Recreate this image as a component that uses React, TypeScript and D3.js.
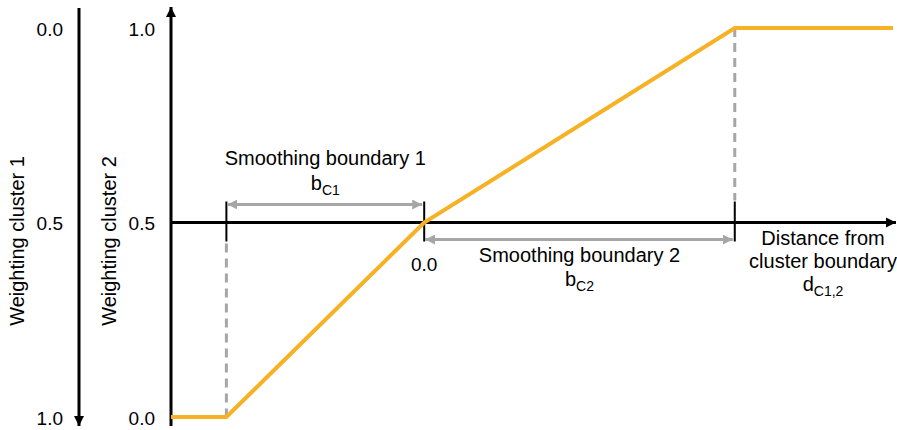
import * as d3 from "d3";

// distance from cluster boundary (in units of b_C1) and the weight of cluster 2
const distance = [-1.28, -1.0, 0.0, 1.57, 2.37];
const weight2 = [0, 0, 0.5, 1, 1];

// axis ticks
const weightTicks = [0, 0.5, 1];
const weightTickLabels = ["0.0", "0.5", "1.0"];
const boundaryTicks = [-1.0, 0.0, 1.57];

const W = 897;
const H = 430;
const FONT = "'Liberation Sans', Arial, sans-serif";
const ORANGE = "#f7b125";
const GRAY = "#a6a6a6";

const x = d3.scaleLinear().domain([-1.28, 2.38]).range([171, 895]);
const y2 = d3.scaleLinear().domain([0, 1]).range([417, 28]);
const y1 = d3.scaleLinear().domain([0, 1]).range([28, 417]); // cluster 1 runs the other way

const App = () => {
  const pts: [number, number][] = distance.map((d, i) => [d, weight2[i]]);
  const line = d3
    .line<[number, number]>()
    .x((d) => x(d[0]))
    .y((d) => y2(d[1]));

  const axisY = y2(0.5);
  const x0 = x(0);
  const xL = x(boundaryTicks[0]);
  const xR = x(boundaryTicks[2]);

  return (
    <svg
      width={W}
      height={H}
      style={{ position: "absolute", left: 0, top: 0, background: "#fff" }}
      fontFamily={FONT}
    >
      <defs>
        <marker id="blackHead" viewBox="0 0 10 10" refX="10" refY="5" markerWidth="10" markerHeight="12" markerUnits="userSpaceOnUse" orient="auto">
          <path d="M0,0 L10,5 L0,10 z" fill="#000" />
        </marker>
        <marker id="grayHead" viewBox="0 0 10 10" refX="10" refY="5" markerWidth="10" markerHeight="10" markerUnits="userSpaceOnUse" orient="auto-start-reverse">
          <path d="M0,0 L10,5 L0,10 z" fill={GRAY} />
        </marker>
      </defs>

      {/* weighting cluster 1 axis (pointing down) */}
      <line x1={79} y1={8} x2={79} y2={426} stroke="#000" strokeWidth={3} markerEnd="url(#blackHead)" />
      {weightTicks.map((t, i) => (
        <text key={"a" + i} x={63} y={y1(t)} dy="0.42em" textAnchor="end" fontSize={19}>
          {weightTickLabels[i]}
        </text>
      ))}
      <text transform={`translate(24,241) rotate(-90)`} textAnchor="middle" fontSize={20}>
        Weighting cluster 1
      </text>

      {/* weighting cluster 2 axis (pointing up) */}
      <line x1={171} y1={426} x2={171} y2={7} stroke="#000" strokeWidth={3} markerEnd="url(#blackHead)" />
      {weightTicks.map((t, i) => (
        <text key={"b" + i} x={155} y={y2(t)} dy="0.42em" textAnchor="end" fontSize={19}>
          {weightTickLabels[i]}
        </text>
      ))}
      <text transform={`translate(116,241) rotate(-90)`} textAnchor="middle" fontSize={20}>
        Weighting cluster 2
      </text>

      {/* distance axis */}
      <line x1={171} y1={axisY} x2={896} y2={axisY} stroke="#000" strokeWidth={3} markerEnd="url(#blackHead)" />
      {boundaryTicks.map((t, i) => (
        <line key={"t" + i} x1={x(t)} x2={x(t)} y1={axisY - 21} y2={axisY + 19} stroke="#000" strokeWidth={2} />
      ))}
      <text x={x0} y={axisY + 48} textAnchor="middle" fontSize={19}>
        0.0
      </text>

      {/* dashed guides */}
      <line x1={xL} x2={xL} y1={axisY + 21} y2={y2(0)} stroke={GRAY} strokeWidth={3} strokeDasharray="9,6" />
      <line x1={xR} x2={xR} y1={y2(1)} y2={axisY - 22} stroke={GRAY} strokeWidth={3} strokeDasharray="9,6" />

      {/* smoothing boundary arrows */}
      <line x1={xL + 1} x2={x0 - 2} y1={axisY - 18} y2={axisY - 18} stroke={GRAY} strokeWidth={3} markerStart="url(#grayHead)" markerEnd="url(#grayHead)" />
      <line x1={x0 + 1} x2={xR - 2} y1={axisY + 17} y2={axisY + 17} stroke={GRAY} strokeWidth={3} markerStart="url(#grayHead)" markerEnd="url(#grayHead)" />

      <text x={(xL + x0) / 2} y={165} textAnchor="middle" fontSize={20}>
        Smoothing boundary 1
      </text>
      <text x={(xL + x0) / 2} y={190} textAnchor="middle" fontSize={20}>
        b<tspan fontSize={14} dy={5}>C1</tspan>
      </text>

      <text x={(x0 + xR) / 2} y={262} textAnchor="middle" fontSize={20}>
        Smoothing boundary 2
      </text>
      <text x={(x0 + xR) / 2} y={286} textAnchor="middle" fontSize={20}>
        b<tspan fontSize={14} dy={5}>C2</tspan>
      </text>

      <text x={823} y={245} textAnchor="middle" fontSize={20}>
        Distance from
      </text>
      <text x={823} y={268} textAnchor="middle" fontSize={20}>
        cluster boundary
      </text>
      <text x={823} y={291} textAnchor="middle" fontSize={20}>
        d<tspan fontSize={14} dy={5}>C1,2</tspan>
      </text>

      {/* weighting function */}
      <path d={line(pts) ?? ""} fill="none" stroke={ORANGE} strokeWidth={4} strokeLinejoin="miter" />
    </svg>
  );
};

export default App;
